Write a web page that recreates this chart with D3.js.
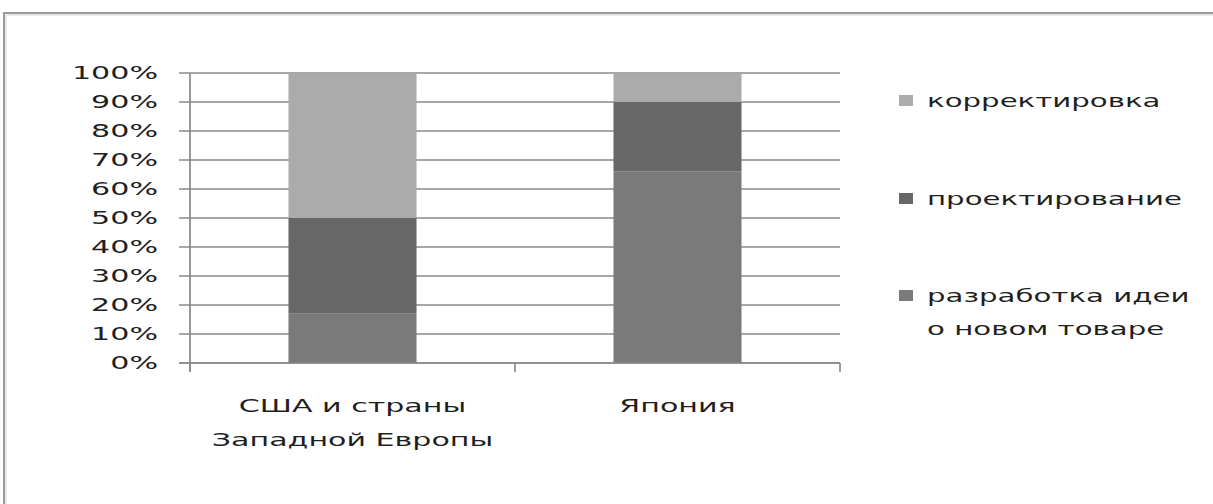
<!DOCTYPE html>
<html>
<head>
<meta charset="utf-8">
<script src="https://cdn.jsdelivr.net/npm/d3@7"></script>
<style>
  html, body { margin: 0; padding: 0; background: #fff; }
  svg { display: block; }
  text { font-family: "DejaVu Sans", Verdana, sans-serif; fill: #1f1f1f; }
</style>
</head>
<body>
<svg id="chart" width="1213" height="504"></svg>
<script>
// Categories (each label may wrap onto several lines)
const categories = ["США и страны Западной Европы", "Япония"];
const categoryLines = [["США и страны", "Западной Европы"], ["Япония"]];

// Series, stacked bottom to top (percent of total)
const seriesNames = ["разработка идеи о новом товаре", "проектирование", "корректировка"];
const seriesLegendLines = [["разработка идеи", "о новом товаре"], ["проектирование"], ["корректировка"]];
const ideaValues = [17, 66];
const designValues = [33, 24];
const correctionValues = [50, 10];
const seriesColors = ["#7a7a7a", "#676767", "#ababab"];

// Value axis ticks
const yTicks = [0, 10, 20, 30, 40, 50, 60, 70, 80, 90, 100];
const yTickLabels = ["0%", "10%", "20%", "30%", "40%", "50%", "60%", "70%", "80%", "90%", "100%"];

const svg = d3.select("#chart");
const W = 1213, H = 504;
const plot = { left: 190, right: 840, top: 73, bottom: 363 };
const textStretch = 1.72;

// Stretch text horizontally about its anchor point
function stretch(sel, k) {
  sel.each(function () {
    const t = d3.select(this);
    const x = +t.attr("x") || 0, y = +t.attr("y") || 0;
    t.attr("x", 0).attr("y", 0).attr("transform", `translate(${x},${y}) scale(${k},1)`);
  });
}

// Outer frame (extends past the visible area on right and bottom)
svg.append("rect").attr("x", 4).attr("y", 13).attr("width", W + 40).attr("height", H + 40)
  .attr("fill", "none").attr("stroke", "#9a9a9a").attr("stroke-width", 2);
svg.append("rect").attr("x", 6).attr("y", 15).attr("width", W + 40).attr("height", H + 40)
  .attr("fill", "none").attr("stroke", "#d6d6d6").attr("stroke-width", 1);

const x0 = d3.scaleBand().domain(categories).range([plot.left, plot.right]).padding(0);
const barW = x0.bandwidth() * 0.394;
const y = d3.scaleLinear().domain([0, 100]).range([plot.bottom, plot.top]);

// Stack the series
const rows = categories.map((c, i) => ({
  cat: c, s0: ideaValues[i], s1: designValues[i], s2: correctionValues[i]
}));
const stack = d3.stack().keys(["s0", "s1", "s2"]);
const stacked = stack(rows);

const gridColor = "#8a8a8a";

// Horizontal gridlines with small ticks left of the axis
svg.append("g").selectAll("line").data(yTicks).join("line")
  .attr("x1", plot.left - 11).attr("x2", plot.right)
  .attr("y1", d => y(d)).attr("y2", d => y(d))
  .attr("stroke", gridColor).attr("stroke-width", 1.7);

// Bars
svg.append("g").selectAll("g").data(stacked).join("g")
  .attr("fill", (d, i) => seriesColors[i])
  .selectAll("rect").data(d => d).join("rect")
  .attr("x", d => x0(d.data.cat) + (x0.bandwidth() - barW) / 2)
  .attr("width", barW)
  .attr("y", d => y(d[1]))
  .attr("height", d => y(d[0]) - y(d[1]));

// Value axis line
svg.append("line").attr("x1", plot.left).attr("x2", plot.left)
  .attr("y1", plot.top).attr("y2", plot.bottom + 9)
  .attr("stroke", gridColor).attr("stroke-width", 1.7);

// Category axis line and boundary ticks
svg.append("line").attr("x1", plot.left - 11).attr("x2", plot.right)
  .attr("y1", plot.bottom).attr("y2", plot.bottom)
  .attr("stroke", gridColor).attr("stroke-width", 1.7);
const bounds = categories.map(c => x0(c)).concat([x0(categories[categories.length - 1]) + x0.bandwidth()]);
svg.append("g").selectAll("line").data(bounds).join("line")
  .attr("x1", d => d).attr("x2", d => d)
  .attr("y1", plot.bottom).attr("y2", plot.bottom + 9)
  .attr("stroke", gridColor).attr("stroke-width", 1.7);

// Y tick labels
const yl = svg.append("g").selectAll("text").data(yTicks).join("text")
  .attr("x", 158).attr("y", d => y(d))
  .attr("dy", "0.36em").attr("text-anchor", "end")
  .style("font-size", "17.5px")
  .text((d, i) => yTickLabels[i]);
stretch(yl, textStretch);

// Category labels
categoryLines.forEach((lines, i) => {
  const cx = x0(categories[i]) + x0.bandwidth() / 2;
  const t = svg.append("g").selectAll("text").data(lines).join("text")
    .attr("x", cx).attr("y", (d, j) => 406 + j * 34)
    .attr("dy", "0.36em").attr("text-anchor", "middle")
    .style("font-size", "17.5px")
    .text(d => d);
  stretch(t, textStretch);
});

// Legend (top entry is the top of the stack)
const legendOrder = [2, 1, 0];
const legendRowY = [101, 199, 296];
legendOrder.forEach((si, r) => {
  const cy = legendRowY[r];
  svg.append("rect").attr("x", 899).attr("y", cy - 6).attr("width", 14).attr("height", 11)
    .attr("fill", seriesColors[si]);
  const t = svg.append("g").selectAll("text").data(seriesLegendLines[si]).join("text")
    .attr("x", 927).attr("y", (d, j) => cy + j * 33)
    .attr("dy", "0.36em")
    .style("font-size", "17px")
    .text(d => d);
  stretch(t, textStretch);
});
</script>
</body>
</html>
